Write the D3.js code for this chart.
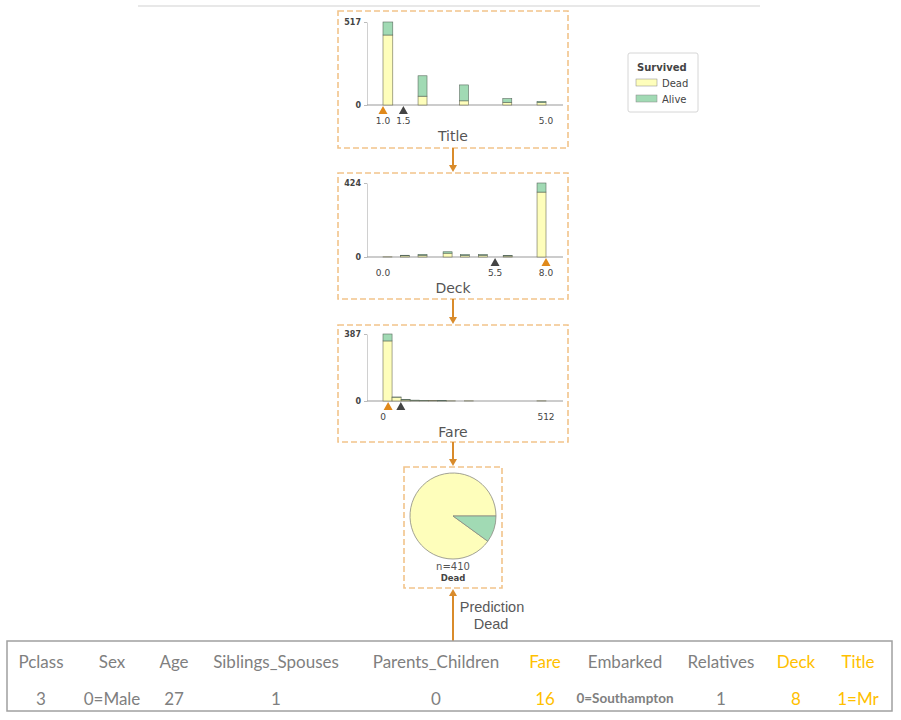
<!DOCTYPE html>
<html><head><meta charset="utf-8">
<script src="https://cdn.jsdelivr.net/npm/d3@7"></script>
<style>body{margin:0;background:#fff}svg{display:block}</style>
</head><body>
<script>
// ---------- DATA ----------
const classNames = ["Dead", "Alive"];
// Title node
const titleBinStart = [1.0, 1.86, 2.88, 3.94, 4.78];
const titleBinEnd   = [1.24, 2.08, 3.10, 4.16, 5.0];
const titleDead  = [436, 55, 26, 17, 15];
const titleAlive = [81, 127, 99, 23, 8];
const titleTicks = [1.0, 1.5, 5.0];
const titleValue = 1.0, titleSplit = 1.5;
// Deck node
const deckBinStart = [0.0, 0.85, 1.72, 2.95, 3.80, 4.68, 5.90, 7.56];
const deckBinEnd   = [0.44, 1.29, 2.16, 3.39, 4.24, 5.12, 6.34, 8.0];
const deckDead  = [1, 7, 10, 22, 9, 10, 6, 372];
const deckAlive = [0, 3, 5, 8, 5, 4, 3, 52];
const deckTicks = [0.0, 5.5, 8.0];
const deckValue = 8.0, deckSplit = 5.5;
// Fare node (18 bins over 0..512)
const fareDead  = [347, 22, 6, 4, 2, 2, 1, 1, 0, 1, 0, 0, 0, 0, 0, 0, 0, 1];
const fareAlive = [40, 1, 2, 1, 1, 0, 1, 0, 0, 0, 0, 0, 0, 0, 0, 0, 0, 0];
const fareTicks = [0, 512];
const fareValue = 16, fareSplit = 56;
// Leaf
const leafCounts = [369, 41];
const leafN = 410, leafLabel = "Dead";
// Table
const tableHeaders = ["Pclass","Sex","Age","Siblings_Spouses","Parents_Children","Fare","Embarked","Relatives","Deck","Title"];
const tableValues  = ["3","0=Male","27","1","0","16","0=Southampton","1","8","1=Mr"];
const tableHighlight = ["Fare","Deck","Title"];

// ---------- STYLE ----------
const colDead = "#fefebb", colAlive = "#a1dab4";
const boxStroke = "#f2c48a", arrowCol = "#d98b2b", orangeTri = "#e0891a";
const W = 901, H = 720;
const svg = d3.select("body").append("svg").attr("width", W).attr("height", H);

// top rule
svg.append("line").attr("x1",138).attr("x2",760).attr("y1",6).attr("y2",6)
  .attr("stroke","#e8e8e8").attr("stroke-width",2);

function arrowHead(x, y, dir) { // dir 1 = pointing down, -1 = up
  const p = d3.path();
  p.moveTo(x, y); p.lineTo(x-4, y - dir*7); p.lineTo(x+4, y - dir*7); p.closePath();
  svg.append("path").attr("d", p.toString()).attr("fill", arrowCol);
}

function panel(cfg) {
  const g = svg.append("g");
  g.append("rect").attr("x",cfg.box[0]).attr("y",cfg.box[1])
    .attr("width",cfg.box[2]-cfg.box[0]).attr("height",cfg.box[3]-cfg.box[1])
    .attr("fill","none").attr("stroke",boxStroke).attr("stroke-width",1.6)
    .attr("stroke-dasharray","6,3");
  const x = d3.scaleLinear().domain(cfg.domain).range([383, 546]);
  const maxN = d3.max(cfg.dead.map((d,i)=>d+cfg.alive[i]));
  const y = d3.scaleLinear().domain([0, maxN]).range([cfg.base, cfg.top]);
  // y axis
  const ya = g.append("g").attr("transform",`translate(367,0)`)
    .call(d3.axisLeft(y).tickValues([0, maxN]).tickSize(3).tickSizeOuter(0).tickFormat(d3.format("d")));
  ya.select(".domain").attr("stroke","#d0d0d0");
  ya.selectAll(".tick line").attr("stroke","#bbb");
  ya.selectAll(".tick text").attr("font-family","DejaVu Sans").attr("font-size",8)
    .attr("font-weight","bold").attr("fill","#444").attr("x",-6);
  // baseline
  g.append("line").attr("x1",367).attr("x2",563).attr("y1",cfg.base).attr("y2",cfg.base)
    .attr("stroke","#999").attr("stroke-width",1);
  // bars
  cfg.dead.forEach((dv,i)=>{
    const x0 = x(cfg.start[i]), x1 = x(cfg.end[i]);
    const av = cfg.alive[i];
    if (dv + av === 0) return;
    g.append("rect").attr("x",x0).attr("width",x1-x0)
      .attr("y",y(dv)).attr("height",y(0)-y(dv))
      .attr("fill",colDead).attr("stroke","#6b6b55").attr("stroke-width",0.6);
    if (av > 0) g.append("rect").attr("x",x0).attr("width",x1-x0)
      .attr("y",y(dv+av)).attr("height",y(dv)-y(dv+av))
      .attr("fill",colAlive).attr("stroke","#5a6b5f").attr("stroke-width",0.6);
  });
  // triangles
  function tri(v, col) {
    const cx = x(v), t = cfg.base + 1;
    g.append("path").attr("d",`M${cx},${t}L${cx-4.5},${t+8}L${cx+4.5},${t+8}Z`).attr("fill",col);
  }
  tri(cfg.split, "#444");
  tri(cfg.value, orangeTri);
  // tick labels
  g.selectAll("text.tk").data(cfg.ticks).join("text").attr("class","tk")
    .attr("x",d=>x(d)).attr("y",cfg.base+19).attr("text-anchor","middle")
    .attr("font-family","DejaVu Sans").attr("font-size",9).attr("fill","#444")
    .text(d=>cfg.fmt(d));
  g.append("text").attr("x",453).attr("y",cfg.base+36).attr("text-anchor","middle")
    .attr("font-family","DejaVu Sans").attr("font-size",14).attr("fill","#555").text(cfg.label);
}

panel({box:[338,11,568,148], domain:[1,5], base:105, top:22, start:titleBinStart, end:titleBinEnd,
  dead:titleDead, alive:titleAlive, ticks:titleTicks, value:titleValue, split:titleSplit,
  fmt:d3.format(".1f"), label:"Title"});
panel({box:[338,173,568,299], domain:[0,8], base:257, top:183, start:deckBinStart, end:deckBinEnd,
  dead:deckDead, alive:deckAlive, ticks:deckTicks, value:deckValue, split:deckSplit,
  fmt:d3.format(".1f"), label:"Deck"});
const fareW = 512/fareDead.length;
panel({box:[338,325,568,442], domain:[0,512], base:401, top:334,
  start:fareDead.map((d,i)=>i*fareW), end:fareDead.map((d,i)=>(i+1)*fareW),
  dead:fareDead, alive:fareAlive, ticks:fareTicks, value:fareValue, split:fareSplit,
  fmt:d3.format("d"), label:"Fare"});

// arrows between nodes
[[148,172],[299,324],[442,466]].forEach(([a,b])=>{
  svg.append("line").attr("x1",453).attr("x2",453).attr("y1",a).attr("y2",b-5)
    .attr("stroke",arrowCol).attr("stroke-width",2);
  arrowHead(453, b, 1);
});

// leaf
svg.append("rect").attr("x",404).attr("y",467).attr("width",98).attr("height",121)
  .attr("fill","none").attr("stroke",boxStroke).attr("stroke-width",1.6).attr("stroke-dasharray","6,3");
const pie = d3.pie().sort(null).startAngle(Math.PI/2).endAngle(Math.PI/2 - 2*Math.PI);
const arc = d3.arc().innerRadius(0).outerRadius(43);
svg.append("g").attr("transform","translate(453,516)")
  .selectAll("path").data(pie(leafCounts)).join("path")
  .attr("d",arc).attr("fill",(d,i)=>i===0?colDead:colAlive)
  .attr("stroke","#8a8a80").attr("stroke-width",0.8);
svg.append("text").attr("x",453).attr("y",570).attr("text-anchor","middle")
  .attr("font-family","DejaVu Sans").attr("font-size",10).attr("fill","#555").text("n=" + leafN);
svg.append("text").attr("x",453).attr("y",581).attr("text-anchor","middle")
  .attr("font-family","DejaVu Sans").attr("font-size",8.5).attr("font-weight","bold").attr("fill","#444").text(leafLabel);

// prediction arrow (up)
svg.append("line").attr("x1",453).attr("x2",453).attr("y1",641).attr("y2",594)
  .attr("stroke",arrowCol).attr("stroke-width",2);
arrowHead(453, 589, -1);
const pt = svg.append("text").attr("font-family","Liberation Sans").attr("font-size",14.5)
  .attr("fill","#595959").attr("text-anchor","middle");
pt.append("tspan").attr("x",492).attr("y",612).text("Prediction");
pt.append("tspan").attr("x",491).attr("y",629).text(leafLabel);

// legend
const lg = svg.append("g");
lg.append("rect").attr("x",628).attr("y",53).attr("width",70).attr("height",59).attr("rx",2)
  .attr("fill","#fff").attr("stroke","#d6d6d6");
lg.append("text").attr("x",637).attr("y",71).attr("font-family","DejaVu Sans").attr("font-size",10)
  .attr("font-weight","bold").attr("fill","#444").text("Survived");
classNames.forEach((c,i)=>{
  lg.append("rect").attr("x",636).attr("y",79+i*16).attr("width",21).attr("height",7)
    .attr("fill",i===0?colDead:colAlive).attr("stroke","#888").attr("stroke-width",0.5);
  lg.append("text").attr("x",662).attr("y",87+i*16).attr("font-family","DejaVu Sans").attr("font-size",10)
    .attr("fill","#444").text(c);
});

// table
svg.append("rect").attr("x",7).attr("y",641).attr("width",885).attr("height",70)
  .attr("fill","#fff").attr("stroke","#a0a0a0").attr("stroke-width",1.5);
const colX = d3.scaleOrdinal().domain(tableHeaders).range([41,112,174,276,436,545,625,721,796,858]);
tableHeaders.forEach((h,i)=>{
  const hi = tableHighlight.includes(h);
  svg.append("text").attr("x",colX(h)).attr("y",668).attr("text-anchor","middle")
    .attr("font-family","Lato").attr("font-size",17).attr("fill",hi?"#ffc000":"#7f7f7f").text(h);
  const small = tableValues[i].length > 8;
  svg.append("text").attr("x",colX(h)).attr("y",small?703:705).attr("text-anchor","middle")
    .attr("font-family","Lato").attr("font-size",small?13.5:17).attr("font-weight",small?"bold":"normal")
    .attr("fill",hi?"#ffc000":"#7f7f7f").text(tableValues[i]);
});
</script>
</body></html>
